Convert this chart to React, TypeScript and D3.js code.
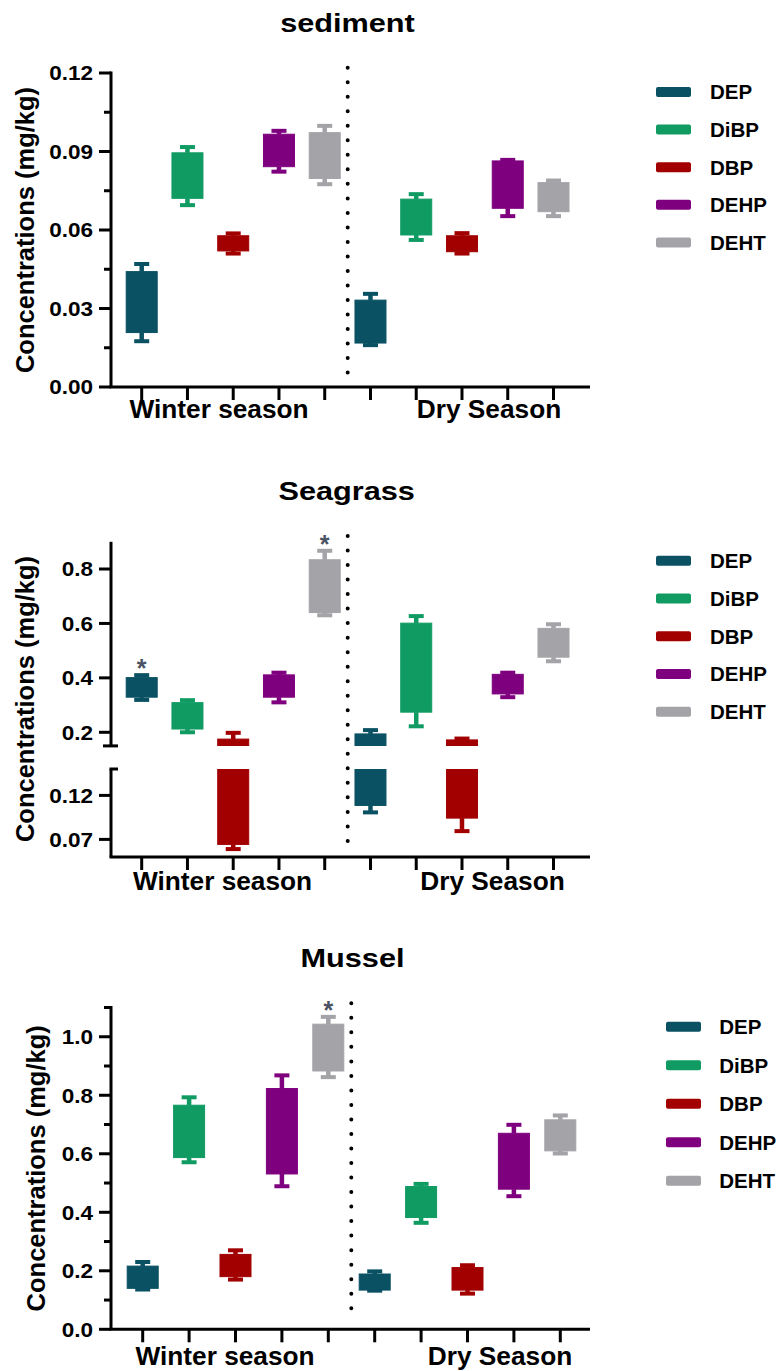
import React from "react";
import * as d3 from "d3";

// ---- data -------------------------------------------------------------
// each series: 5 compounds in the winter season, then the same 5 in the dry season
const compounds = ["DEP", "DiBP", "DBP", "DEHP", "DEHT"];
const seasons = ["Winter season", "Dry Season"];
const colors = ["#0a5163", "#109b63", "#a20000", "#7f007f", "#a3a3a8"];

const sedimentMax = [0.047, 0.0917, 0.0587, 0.0979, 0.0998, 0.0356, 0.0737, 0.0588, 0.0868, 0.0789];
const sedimentQ3 = [0.0441, 0.0895, 0.0578, 0.0966, 0.0972, 0.0332, 0.0718, 0.0578, 0.0864, 0.0781];
const sedimentQ1 = [0.0208, 0.0721, 0.052, 0.0842, 0.0797, 0.0168, 0.0581, 0.0517, 0.0683, 0.067];
const sedimentMin = [0.0175, 0.0695, 0.051, 0.0823, 0.0775, 0.016, 0.0562, 0.051, 0.0653, 0.0653];

const seagrassMax = [0.41, 0.318, 0.198, 0.419, 0.867, 0.208, 0.627, 0.177, 0.419, 0.597];
const seagrassQ3 = [0.401, 0.309, 0.175, 0.411, 0.834, 0.194, 0.601, 0.172, 0.413, 0.582];
const seagrassQ1 = [0.329, 0.212, 0.0643, 0.329, 0.64, 0.1086, 0.274, 0.0942, 0.341, 0.476];
const seagrassMin = [0.319, 0.2, 0.059, 0.31, 0.63, 0.1007, 0.222, 0.0794, 0.329, 0.461];
const seagrassStarred = [0, 4];

const musselMax = [0.23, 0.793, 0.27, 0.868, 1.068, 0.198, 0.497, 0.219, 0.699, 0.731];
const musselQ3 = [0.216, 0.766, 0.256, 0.823, 1.043, 0.189, 0.488, 0.211, 0.67, 0.716];
const musselQ1 = [0.14, 0.587, 0.18, 0.531, 0.883, 0.134, 0.382, 0.134, 0.479, 0.61];
const musselMin = [0.136, 0.571, 0.17, 0.489, 0.862, 0.132, 0.364, 0.122, 0.455, 0.601];
const musselStarred = [4];

const sedimentTicks = [0, 0.03, 0.06, 0.09, 0.12];
const sedimentMinorTicks = [0.015, 0.045, 0.075, 0.105];
const seagrassUpperTicks = [0.2, 0.4, 0.6, 0.8];
const seagrassLowerTicks = [0.07, 0.12];
const musselTicks = [0, 0.2, 0.4, 0.6, 0.8, 1.0];
const musselMinorTicks = [0.1, 0.3, 0.5, 0.7, 0.9, 1.1];

// ---- helpers ----------------------------------------------------------
const W = 780;
const H = 1371;
const FONT = "'Liberation Sans', Arial, Helvetica, sans-serif";
const AXIS_X = 111;
const slots = d3.range(10);

type TP = {
  x: number;
  y: number;
  sx?: number;
  size: number;
  anchor?: "start" | "middle" | "end";
  dy?: string;
  fill?: string;
  rotate?: number;
  children: React.ReactNode;
};

// bold label, optionally stretched horizontally
function T({ x, y, sx = 1, size, anchor = "start", dy, fill = "#000", rotate = 0, children }: TP) {
  return (
    <text
      transform={`translate(${x},${y}) rotate(${rotate}) scale(${sx},1)`}
      fontSize={size}
      fontWeight="bold"
      fontFamily={FONT}
      textAnchor={anchor}
      dy={dy}
      fill={fill}
    >
      {children}
    </text>
  );
}

type BoxProps = {
  x: d3.ScalePoint<number>;
  y: d3.ScaleLinear<number, number>;
  max: number[];
  q3: number[];
  q1: number[];
  min: number[];
  clip?: string;
};

// filled min-max box plots: whisker stems, caps, and the Q1-Q3 box
function Boxes({ x, y, max, q3, q1, min, clip }: BoxProps) {
  const boxW = 31;
  const capW = 15;
  return (
    <g clipPath={clip ? `url(#${clip})` : undefined}>
      {slots.map((i) => {
        const cx = x(i) as number;
        const c = colors[i % 5];
        return (
          <g key={i}>
            <line x1={cx} x2={cx} y1={y(q3[i])} y2={y(max[i])} stroke={c} strokeWidth={4.5} />
            <line x1={cx} x2={cx} y1={y(q1[i])} y2={y(min[i])} stroke={c} strokeWidth={4.5} />
            <line x1={cx - capW / 2} x2={cx + capW / 2} y1={y(max[i])} y2={y(max[i])} stroke={c} strokeWidth={4} />
            <line x1={cx - capW / 2} x2={cx + capW / 2} y1={y(min[i])} y2={y(min[i])} stroke={c} strokeWidth={4} />
            <rect
              x={cx - boxW / 2}
              width={boxW}
              y={y(q3[i])}
              height={y(q1[i]) - y(q3[i])}
              fill={c}
              stroke={c}
              strokeWidth={1}
            />
          </g>
        );
      })}
    </g>
  );
}

function YTicks({
  y,
  major,
  minor = [],
  fmt,
}: {
  y: d3.ScaleLinear<number, number>;
  major: number[];
  minor?: number[];
  fmt: (v: number) => string;
}) {
  return (
    <g>
      {major.map((v) => (
        <g key={"M" + v}>
          <line x1={AXIS_X - 12} x2={AXIS_X} y1={y(v)} y2={y(v)} stroke="#000" strokeWidth={3} />
          <T x={93} y={y(v)} sx={1.1} size={20.5} anchor="end" dy="0.36em">
            {fmt(v)}
          </T>
        </g>
      ))}
      {minor.map((v) => (
        <line key={"m" + v} x1={AXIS_X - 7} x2={AXIS_X} y1={y(v)} y2={y(v)} stroke="#000" strokeWidth={3} />
      ))}
    </g>
  );
}

function XAxis({
  x,
  yPos,
  labelY,
  winterX,
  dryX,
}: {
  x: d3.ScalePoint<number>;
  yPos: number;
  labelY: number;
  winterX: number;
  dryX: number;
}) {
  return (
    <g>
      <line x1={AXIS_X - 1.5} x2={590} y1={yPos} y2={yPos} stroke="#000" strokeWidth={3} />
      {slots.map((i) => (
        <line key={i} x1={x(i)} x2={x(i)} y1={yPos} y2={yPos + 13} stroke="#000" strokeWidth={3} />
      ))}
      <T x={winterX} y={labelY} sx={1.05} size={25} anchor="middle">
        {seasons[0]}
      </T>
      <T x={dryX} y={labelY} sx={1.05} size={25} anchor="middle">
        {seasons[1]}
      </T>
    </g>
  );
}

function Legend({ x, y0, step, textDx }: { x: number; y0: number; step: number; textDx: number }) {
  return (
    <g>
      {compounds.map((name, k) => (
        <g key={name}>
          <rect x={x} y={y0 + k * step - 5} width={35} height={10} rx={2} fill={colors[k]} />
          <T x={x + textDx} y={y0 + k * step} size={20.5} dy="0.36em">
            {name}
          </T>
        </g>
      ))}
    </g>
  );
}

// dotted separator between the two seasons
function Divider({ x, y1, y2 }: { x: number; y1: number; y2: number }) {
  return (
    <line
      x1={x}
      x2={x}
      y1={y1}
      y2={y2}
      stroke="#000"
      strokeWidth={4}
      strokeLinecap="round"
      strokeDasharray="0 14.52"
    />
  );
}

export default function App() {
  const fmt2 = d3.format(".2f");
  const fmt1 = d3.format(".1f");

  // sediment
  const x1 = d3.scalePoint<number>().domain(slots).range([141.7, 553.5]);
  const y1 = d3.scaleLinear().domain([0, 0.12]).range([387, 73]);

  // seagrass, broken axis: upper and lower segments
  const x2 = d3.scalePoint<number>().domain(slots).range([141.7, 553.5]);
  const y2u = d3.scaleLinear().domain([0.15, 0.9]).range([745.9, 541.8]);
  const y2l = d3.scaleLinear().domain([0.05, 0.15]).range([857, 769]);
  const y2 = (v: number) => (v >= 0.15 ? y2u(v) : y2l(v));

  // mussel
  const x3 = d3.scalePoint<number>().domain(slots).range([142.7, 560.3]);
  const y3 = d3.scaleLinear().domain([0, 1.1]).range([1329.3, 1007.5]);

  const star = (cx: number, yv: number) => (
    <text x={cx} y={yv + 2} fontSize={25} fontWeight="bold" fontFamily={FONT} fill="#4a5263" textAnchor="middle">
      *
    </text>
  );

  return (
    <svg
      width={W}
      height={H}
      viewBox={`0 0 ${W} ${H}`}
      style={{ position: "absolute", left: 0, top: 0, background: "#fff" }}
    >
      <rect width={W} height={H} fill="#fff" />
      <defs>
        <clipPath id="segUpper">
          <rect x={100} y={520} width={500} height={745.9 - 520} />
        </clipPath>
        <clipPath id="segLower">
          <rect x={100} y={769} width={500} height={857 - 769} />
        </clipPath>
      </defs>

      {/* ---------- sediment ---------- */}
      <T x={347.5} y={31.7} sx={1.18} size={26} anchor="middle">
        sediment
      </T>
      <T x={33.5} y={230} size={25.5} anchor="middle" rotate={-90}>
        Concentrations (mg/kg)
      </T>
      <Boxes x={x1} y={y1} max={sedimentMax} q3={sedimentQ3} q1={sedimentQ1} min={sedimentMin} />
      <line x1={AXIS_X} x2={AXIS_X} y1={y1(0.12) - 1.5} y2={y1(0)} stroke="#000" strokeWidth={3} />
      <YTicks y={y1} major={sedimentTicks} minor={sedimentMinorTicks} fmt={fmt2} />
      <XAxis x={x1} yPos={y1(0)} labelY={418} winterX={219} dryX={489} />
      <Divider x={347.7} y1={67.7} y2={373} />
      <Legend x={656} y0={92} step={37.6} textDx={54} />

      {/* ---------- seagrass ---------- */}
      <T x={346.7} y={500} sx={1.18} size={26} anchor="middle">
        Seagrass
      </T>
      <T x={33.5} y={699} size={25.5} anchor="middle" rotate={-90}>
        Concentrations (mg/kg)
      </T>
      <Boxes x={x2} y={y2u} max={seagrassMax} q3={seagrassQ3} q1={seagrassQ1} min={seagrassMin} clip="segUpper" />
      <Boxes x={x2} y={y2l} max={seagrassMax} q3={seagrassQ3} q1={seagrassQ1} min={seagrassMin} clip="segLower" />
      {seagrassStarred.map((i) => (
        <g key={"s" + i}>{star(x2(i) as number, y2(seagrassMax[i]))}</g>
      ))}
      <line x1={AXIS_X} x2={AXIS_X} y1={y2u(0.9)} y2={y2u(0.15)} stroke="#000" strokeWidth={3} />
      <line x1={AXIS_X} x2={AXIS_X} y1={y2l(0.15)} y2={y2l(0.05)} stroke="#000" strokeWidth={3} />
      <line x1={AXIS_X - 8} x2={AXIS_X + 7} y1={y2u(0.15)} y2={y2u(0.15)} stroke="#000" strokeWidth={3} />
      <line x1={AXIS_X - 1.5} x2={AXIS_X + 7} y1={y2l(0.15)} y2={y2l(0.15)} stroke="#000" strokeWidth={3} />
      <YTicks y={y2u} major={seagrassUpperTicks} fmt={fmt1} />
      <YTicks y={y2l} major={seagrassLowerTicks} fmt={fmt2} />
      <XAxis x={x2} yPos={y2l(0.05)} labelY={890} winterX={222.5} dryX={492.5} />
      <Divider x={347.7} y1={536} y2={843} />
      <Legend x={656} y0={560.7} step={37.75} textDx={54} />

      {/* ---------- mussel ---------- */}
      <T x={352.5} y={966.7} sx={1.18} size={26} anchor="middle">
        Mussel
      </T>
      <T x={45} y={1168.3} size={25.5} anchor="middle" rotate={-90}>
        Concentrations (mg/kg)
      </T>
      <Boxes x={x3} y={y3} max={musselMax} q3={musselQ3} q1={musselQ1} min={musselMin} />
      {musselStarred.map((i) => (
        <g key={"m" + i}>{star(x3(i) as number, y3(musselMax[i]))}</g>
      ))}
      <line x1={AXIS_X} x2={AXIS_X} y1={y3(1.1) - 1.5} y2={y3(0)} stroke="#000" strokeWidth={3} />
      <YTicks y={y3} major={musselTicks} minor={musselMinorTicks} fmt={fmt1} />
      <XAxis x={x3} yPos={y3(0)} labelY={1365} winterX={225} dryX={500} />
      <Divider x={351.3} y1={1003.3} y2={1314} />
      <Legend x={666} y0={1026.7} step={38.5} textDx={53.3} />
    </svg>
  );
}
